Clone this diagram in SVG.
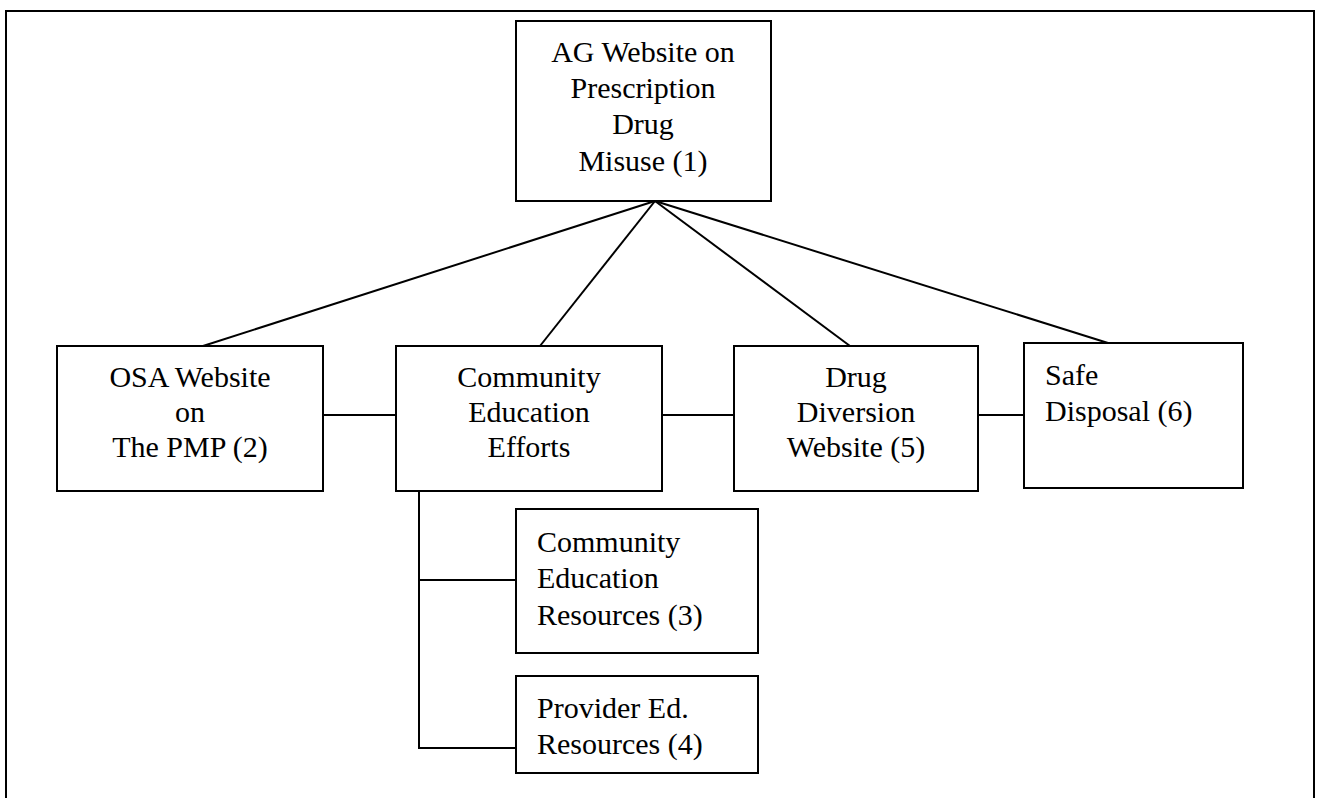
<svg xmlns="http://www.w3.org/2000/svg" width="1319" height="798" viewBox="0 0 1319 798">
<style>
.box{fill:#fff;stroke:#000;stroke-width:2}
.ln{stroke:#000;stroke-width:2;fill:none}
text{font-family:"Liberation Serif","Times New Roman",serif;font-size:30px;fill:#000}
.c{text-anchor:middle}
</style>
<rect x="0" y="0" width="1319" height="798" fill="#fff"/>
<path class="ln" d="M6,798 V11 H1314 V798"/>
<g id="connectors">
<line class="ln" x1="655" y1="201" x2="203" y2="346"/>
<line class="ln" x1="655" y1="201" x2="540" y2="346"/>
<line class="ln" x1="655" y1="201" x2="850" y2="346"/>
<line class="ln" x1="655" y1="201" x2="1108" y2="343"/>
<line class="ln" x1="323" y1="415" x2="396" y2="415"/>
<line class="ln" x1="662" y1="415" x2="734" y2="415"/>
<line class="ln" x1="978" y1="415" x2="1024" y2="415"/>
<polyline class="ln" points="419,486 419,748 516,748"/>
<line class="ln" x1="419" y1="580" x2="516" y2="580"/>
</g>
<g id="n1"><rect class="box" x="516" y="21" width="255" height="180"/>
<text class="c" x="643" y="62">AG Website on</text><text class="c" x="643" y="98">Prescription</text><text class="c" x="643" y="134">Drug</text><text class="c" x="643" y="171">Misuse (1)</text></g>
<g id="n2"><rect class="box" x="57" y="346" width="266" height="145"/>
<text class="c" x="190" y="387">OSA Website</text><text class="c" x="190" y="422">on</text><text class="c" x="190" y="457">The PMP (2)</text></g>
<g id="n3"><rect class="box" x="396" y="346" width="266" height="145"/>
<text class="c" x="529" y="387">Community</text><text class="c" x="529" y="422">Education</text><text class="c" x="529" y="457">Efforts</text></g>
<g id="n5"><rect class="box" x="734" y="346" width="244" height="145"/>
<text class="c" x="856" y="387">Drug</text><text class="c" x="856" y="422">Diversion</text><text class="c" x="856" y="457">Website (5)</text></g>
<g id="n6"><rect class="box" x="1024" y="343" width="219" height="145"/>
<text x="1045" y="385">Safe</text><text x="1045" y="421">Disposal (6)</text></g>
<g id="n3b"><rect class="box" x="516" y="509" width="242" height="144"/>
<text x="537" y="552">Community</text><text x="537" y="588">Education</text><text x="537" y="625">Resources (3)</text></g>
<g id="n4"><rect class="box" x="516" y="676" width="242" height="97"/>
<text x="537" y="718">Provider Ed.</text><text x="537" y="754">Resources (4)</text></g>
</svg>
